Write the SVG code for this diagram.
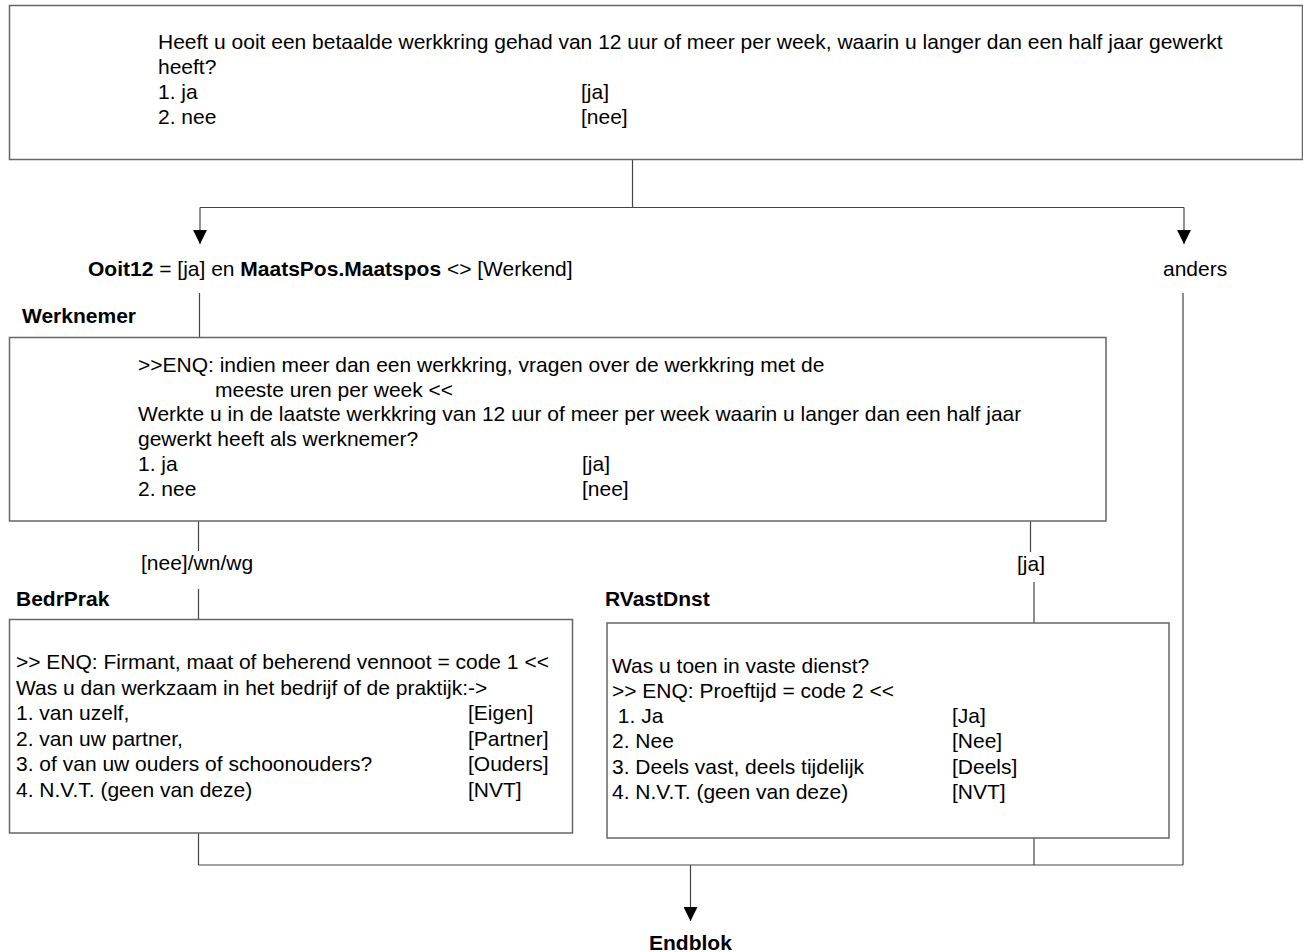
<svg xmlns="http://www.w3.org/2000/svg" width="1303" height="952" viewBox="0 0 1303 952">
<defs>
<marker id="ah" markerUnits="userSpaceOnUse" markerWidth="14" markerHeight="14" refX="14" refY="7" orient="auto">
<path d="M0,0 L14,7 L0,14 z" fill="#000"/>
</marker>
<style>
text{font-family:"Liberation Sans",Arial,sans-serif;font-size:21px;fill:#000}
.b{font-weight:bold}
.box{fill:#fff;stroke:#666;stroke-width:1.5}
.cn{fill:none;stroke:#444;stroke-width:1.2}
</style>
</defs>
<rect width="1303" height="952" fill="#fff"/>
<g id="connectors">
<path class="cn" d="M632.5,160 V207.5 M200,207.5 H1184"/>
<path class="cn" d="M200,207.5 V244" marker-end="url(#ah)"/>
<path class="cn" d="M1184,207.5 V244" marker-end="url(#ah)"/>
<path class="cn" d="M199.5,293 V341"/>
<path class="cn" d="M1183,293 V865"/>
<path class="cn" d="M198.5,521 V551 M198.5,589 V619"/>
<path class="cn" d="M1030.5,521 V552 M1034,582 V623"/>
<path class="cn" d="M198.5,833 V865 M1034,838 V865 M198.5,865 H1183"/>
<path class="cn" d="M690.5,865 V921" marker-end="url(#ah)"/>
</g>
<g id="ooit12">
<rect class="box" x="9.5" y="5.5" width="1293" height="154"/>
<text x="158" y="49">Heeft u ooit een betaalde werkkring gehad van 12 uur of meer per week, waarin u langer dan een half jaar gewerkt</text>
<text x="158" y="74">heeft?</text>
<text x="158" y="99">1. ja</text><text x="581" y="99">[ja]</text>
<text x="158" y="124">2. nee</text><text x="581" y="124">[nee]</text>
</g>
<g id="cond1">
<text x="88" y="276"><tspan class="b">Ooit12</tspan> = [ja] en <tspan class="b">MaatsPos.Maatspos</tspan> &lt;&gt; [Werkend]</text>
</g>
<g id="cond2">
<text x="1163" y="276">anders</text>
</g>
<g id="werknemer">
<text class="b" x="22" y="323">Werknemer</text>
<rect class="box" x="9.5" y="337.5" width="1096.5" height="183.5"/>
<text x="138" y="372">&gt;&gt;ENQ: indien meer dan een werkkring, vragen over de werkkring met de</text>
<text x="215" y="397">meeste uren per week &lt;&lt;</text>
<text x="138" y="421">Werkte u in de laatste werkkring van 12 uur of meer per week waarin u langer dan een half jaar</text>
<text x="138" y="446">gewerkt heeft als werknemer?</text>
<text x="138" y="471">1. ja</text><text x="582" y="471">[ja]</text>
<text x="138" y="496">2. nee</text><text x="582" y="496">[nee]</text>
</g>
<g id="lbl-nee">
<text x="141" y="570">[nee]/wn/wg</text>
</g>
<g id="lbl-ja">
<text x="1017" y="571">[ja]</text>
</g>
<g id="bedrprak">
<text class="b" x="16" y="606">BedrPrak</text>
<rect class="box" x="9.5" y="619.5" width="563" height="213.5"/>
<text x="16" y="669">&gt;&gt; ENQ: Firmant, maat of beherend vennoot = code 1 &lt;&lt;</text>
<text x="16" y="694.5">Was u dan werkzaam in het bedrijf of de praktijk:-&gt;</text>
<text x="16" y="720">1. van uzelf,</text><text x="468" y="720">[Eigen]</text>
<text x="16" y="745.5">2. van uw partner,</text><text x="468" y="745.5">[Partner]</text>
<text x="16" y="771">3. of van uw ouders of schoonouders?</text><text x="468" y="771">[Ouders]</text>
<text x="16" y="796.5">4. N.V.T. (geen van deze)</text><text x="468" y="796.5">[NVT]</text>
</g>
<g id="rvastdnst">
<text class="b" x="605" y="606">RVastDnst</text>
<rect class="box" x="607" y="623" width="562" height="215"/>
<text x="612" y="673">Was u toen in vaste dienst?</text>
<text x="612" y="698">&gt;&gt; ENQ: Proeftijd = code 2 &lt;&lt;</text>
<text x="612" y="723" xml:space="preserve"> 1. Ja</text><text x="952" y="723">[Ja]</text>
<text x="612" y="748">2. Nee</text><text x="952" y="748">[Nee]</text>
<text x="612" y="774">3. Deels vast, deels tijdelijk</text><text x="952" y="774">[Deels]</text>
<text x="612" y="799">4. N.V.T. (geen van deze)</text><text x="952" y="799">[NVT]</text>
</g>
<g id="endblok">
<text class="b" x="649" y="950">Endblok</text>
</g>
</svg>
